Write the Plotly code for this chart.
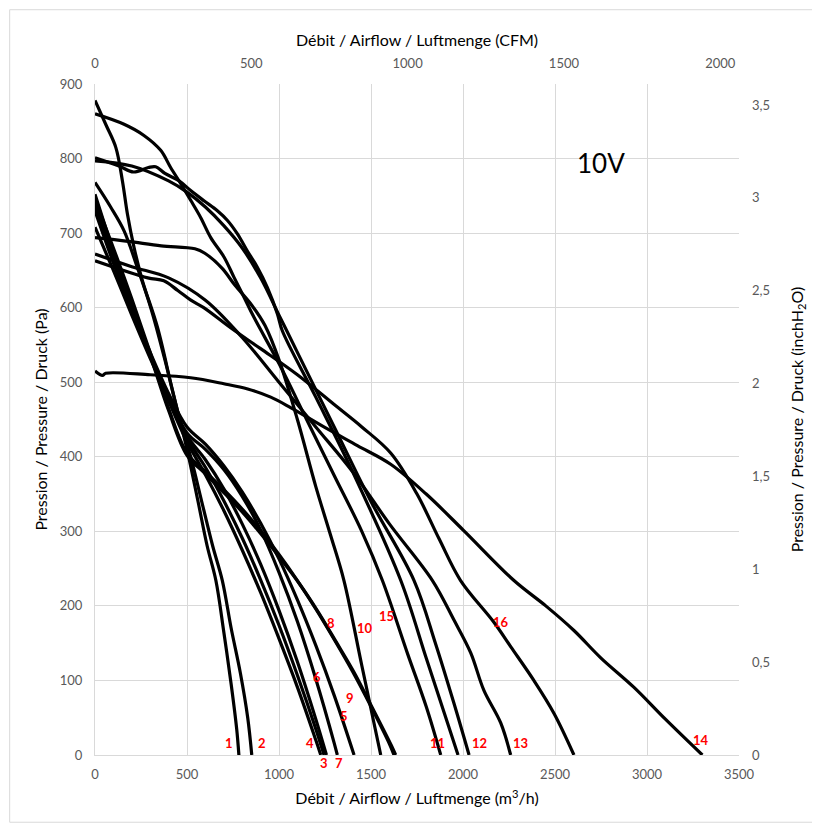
import plotly.graph_objects as go

# ---- data: airflow (m3/h) vs pressure (Pa) ----
c1_x = [0, 60, 113, 149, 176, 212, 258, 339, 420, 500, 560, 610, 657, 700, 740, 770, 782]
c1_y = [878, 845, 815, 770, 726, 681, 636, 574, 490, 410, 340, 280, 234, 165, 95, 35, 0]
c2_x = [0, 85, 158, 230, 303, 380, 450, 520, 580, 640, 692, 740, 790, 830, 852]
c2_y = [768, 735, 703, 654, 600, 530, 460, 400, 340, 280, 234, 170, 110, 50, 0]
c4_x = [0, 100, 200, 300, 400, 500, 600, 700, 800, 900, 1000, 1100, 1200, 1227]
c4_y = [752, 675, 600, 535, 475, 420, 376, 328, 275, 218, 156, 91, 20, 0]
c3_x = [0, 100, 200, 300, 400, 500, 600, 700, 800, 900, 1000, 1100, 1200, 1245]
c3_y = [734, 665, 598, 535, 478, 425, 386, 341, 291, 235, 174, 107, 35, 0]
c6_x = [0, 100, 200, 300, 400, 500, 600, 700, 800, 900, 1000, 1100, 1200, 1258]
c6_y = [708, 650, 590, 532, 478, 428, 396, 357, 310, 256, 194, 125, 48, 0]
c7_x = [0, 100, 200, 300, 400, 500, 600, 700, 800, 900, 1000, 1100, 1200, 1300, 1317]
c7_y = [730, 660, 595, 535, 480, 432, 410, 383, 347, 302, 245, 179, 102, 16, 0]
c5_x = [0, 100, 200, 300, 400, 500, 600, 700, 800, 900, 1000, 1100, 1200, 1300, 1408]
c5_y = [748, 672, 600, 540, 485, 440, 417, 388, 353, 311, 263, 208, 147, 80, 0]
c8_x = [0, 100, 200, 300, 400, 500, 600, 700, 800, 900, 1000, 1100, 1200, 1300, 1400, 1500, 1600, 1625]
c8_y = [745, 680, 612, 540, 465, 405, 380, 356, 330, 301, 269, 234, 196, 155, 112, 65, 15, 0]
c9_x = [0, 100, 200, 300, 400, 500, 600, 700, 800, 900, 1000, 1110, 1210, 1310, 1410, 1510, 1610, 1634]
c9_y = [740, 676, 608, 536, 462, 402, 377, 352, 326, 297, 266, 230, 193, 152, 110, 62, 13, 0]
c10_x = [0, 180, 360, 543, 597, 690, 761, 853, 924, 1000, 1100, 1200, 1280, 1353, 1450, 1553]
c10_y = [694, 689, 683, 679, 673, 653, 630, 603, 576, 530, 450, 360, 295, 234, 120, 0]
c11_x = [0, 158, 266, 357, 411, 467, 520, 574, 629, 701, 755, 810, 864, 1000, 1150, 1300, 1450, 1562, 1700, 1800, 1879]
c11_y = [860, 846, 831, 811, 788, 766, 744, 721, 694, 668, 641, 614, 587, 525, 450, 375, 300, 234, 135, 65, 0]
c15_x = [0, 130, 210, 290, 330, 380, 457, 520, 594, 665, 720, 774, 828, 883, 937, 991, 1018, 1200, 1400, 1662, 1800, 1900, 1973]
c15_y = [801, 790, 782, 788, 789, 780, 770, 757, 743, 730, 717, 699, 676, 654, 627, 592, 569, 480, 380, 234, 130, 55, 0]
c12_x = [0, 200, 400, 500, 600, 700, 800, 900, 1000, 1100, 1300, 1500, 1734, 1850, 1950, 2033]
c12_y = [797, 790, 770, 755, 735, 710, 680, 640, 590, 540, 440, 340, 234, 150, 70, 0]
c13_x = [0, 200, 400, 600, 800, 1000, 1200, 1400, 1600, 1834, 1951, 2042, 2113, 2205, 2259]
c13_y = [672, 655, 640, 610, 560, 500, 440, 380, 310, 234, 181, 137, 87, 43, 0]
c16_x = [0, 287, 374, 450, 521, 591, 737, 900, 1100, 1300, 1450, 1607, 1750, 1870, 1987, 2168, 2260, 2385, 2494, 2603]
c16_y = [663, 640, 636, 623, 610, 600, 573, 545, 510, 470, 440, 405, 350, 290, 234, 178, 145, 100, 56, 0]
c14_x = [0, 40, 58, 300, 520, 700, 830, 955, 1063, 1244, 1426, 1607, 1800, 2004, 2277, 2450, 2603, 2750, 2928, 3100, 3301]
c14_y = [515, 509, 512, 510, 506, 498, 491, 480, 466, 440, 415, 390, 350, 301, 234, 200, 167, 130, 91, 48, 0]

curves_x = [c1_x, c2_x, c3_x, c4_x, c5_x, c6_x, c7_x, c8_x, c9_x, c10_x, c11_x, c12_x, c13_x, c14_x, c15_x, c16_x]
curves_y = [c1_y, c2_y, c3_y, c4_y, c5_y, c6_y, c7_y, c8_y, c9_y, c10_y, c11_y, c12_y, c13_y, c14_y, c15_y, c16_y]

label_text = ["1", "2", "4", "3", "7", "5", "6", "9", "8", "10", "15", "11", "12", "13", "14", "16"]
label_x = [726, 906, 1167, 1243, 1324, 1352, 1205, 1384, 1281, 1466, 1585, 1862, 2091, 2313, 3292, 2205]
label_y = [15.7, 15.7, 15.7, -11.3, -11.3, 52, 104, 77, 177, 171, 186, 15.7, 15.7, 15.7, 19.7, 179]

x_ticks = [0, 500, 1000, 1500, 2000, 2500, 3000, 3500]
y_ticks = [0, 100, 200, 300, 400, 500, 600, 700, 800, 900]
cfm_ticks = [0, 500, 1000, 1500, 2000]
inch_ticks = [0, 0.5, 1, 1.5, 2, 2.5, 3, 3.5]
inch_labels = ["0", "0,5", "1", "1,5", "2", "2,5", "3", "3,5"]

X_MAX = 3500
Y_MAX = 900
M3H_PER_CFM = 1.699
PA_PER_INCH = 249.09

FONT = "Lato, 'Open Sans', sans-serif"

fig = go.Figure()
for cx, cy in zip(curves_x, curves_y):
    fig.add_trace(go.Scatter(x=cx, y=cy, mode="lines",
                             line=dict(color="black", width=3.2, shape="spline", smoothing=1.0),
                             showlegend=False, hoverinfo="skip"))

# invisible traces to activate the secondary axes
fig.add_trace(go.Scatter(x=[0, X_MAX / M3H_PER_CFM], y=[0, 0], xaxis="x2", yaxis="y",
                         mode="markers", marker=dict(opacity=0), showlegend=False, hoverinfo="skip"))
fig.add_trace(go.Scatter(x=[0, 0], y=[0, Y_MAX / PA_PER_INCH], xaxis="x", yaxis="y2",
                         mode="markers", marker=dict(opacity=0), showlegend=False, hoverinfo="skip"))

# curve number labels (y as paper fraction so labels below the axis are still drawn)
for t, lx, ly in zip(label_text, label_x, label_y):
    fig.add_annotation(x=lx, y=ly / Y_MAX, xref="x", yref="paper", text=f"<b>{t}</b>", showarrow=False,
                       xanchor="center", yanchor="middle",
                       font=dict(color="#ff0000", size=13, family=FONT))

fig.add_annotation(x=2748, y=794, text="10V", showarrow=False, xref="x", yref="y",
                   font=dict(size=26, color="black", family=FONT))

tick_font = dict(size=13, color="#595959", family=FONT)
title_font = dict(size=16, color="black", family=FONT)

fig.update_layout(
    width=820, height=830,
    margin=dict(l=87, r=89, t=76, b=83),
    paper_bgcolor="white", plot_bgcolor="white",
    xaxis=dict(range=[0, X_MAX], tickvals=x_ticks, showgrid=True, gridcolor="#d9d9d9", gridwidth=1,
               zeroline=False, showline=True, linecolor="#d9d9d9", linewidth=1, ticks="",
               tickfont=tick_font, ticklabelstandoff=7,
               title=dict(text="Débit / Airflow / Luftmenge (m<sup>3</sup>/h)", font=title_font, standoff=12)),
    yaxis=dict(range=[0, Y_MAX], tickvals=y_ticks, showgrid=True, gridcolor="#d9d9d9", gridwidth=1,
               zeroline=False, showline=True, linecolor="#d9d9d9", linewidth=1, ticks="",
               tickfont=tick_font, ticklabelstandoff=9,
               title=dict(text="Pression / Pressure / Druck (Pa)", font=title_font, standoff=8)),
    xaxis2=dict(range=[0, X_MAX / M3H_PER_CFM], tickvals=cfm_ticks, overlaying="x", side="top",
                showgrid=False, zeroline=False, showline=False, ticks="", tickfont=tick_font,
                ticklabelstandoff=12,
                title=dict(text="Débit / Airflow / Luftmenge (CFM)", font=title_font, standoff=4)),
    yaxis2=dict(range=[0, Y_MAX / PA_PER_INCH], tickvals=inch_ticks, ticktext=inch_labels,
                overlaying="y", side="right", showgrid=False, zeroline=False, showline=False, ticks="",
                tickfont=tick_font, ticklabelstandoff=12,
                title=dict(text="Pression / Pressure / Druck (inchH<sub>2</sub>O)", font=title_font, standoff=22)),
    shapes=[dict(type="rect", xref="paper", yref="paper", x0=-0.1325, x1=1.1144, y0=-0.1002, y1=1.1107,
                 line=dict(color="#d9d9d9", width=1), fillcolor="rgba(0,0,0,0)", layer="below")],
)

fig.write_html("out.html")
